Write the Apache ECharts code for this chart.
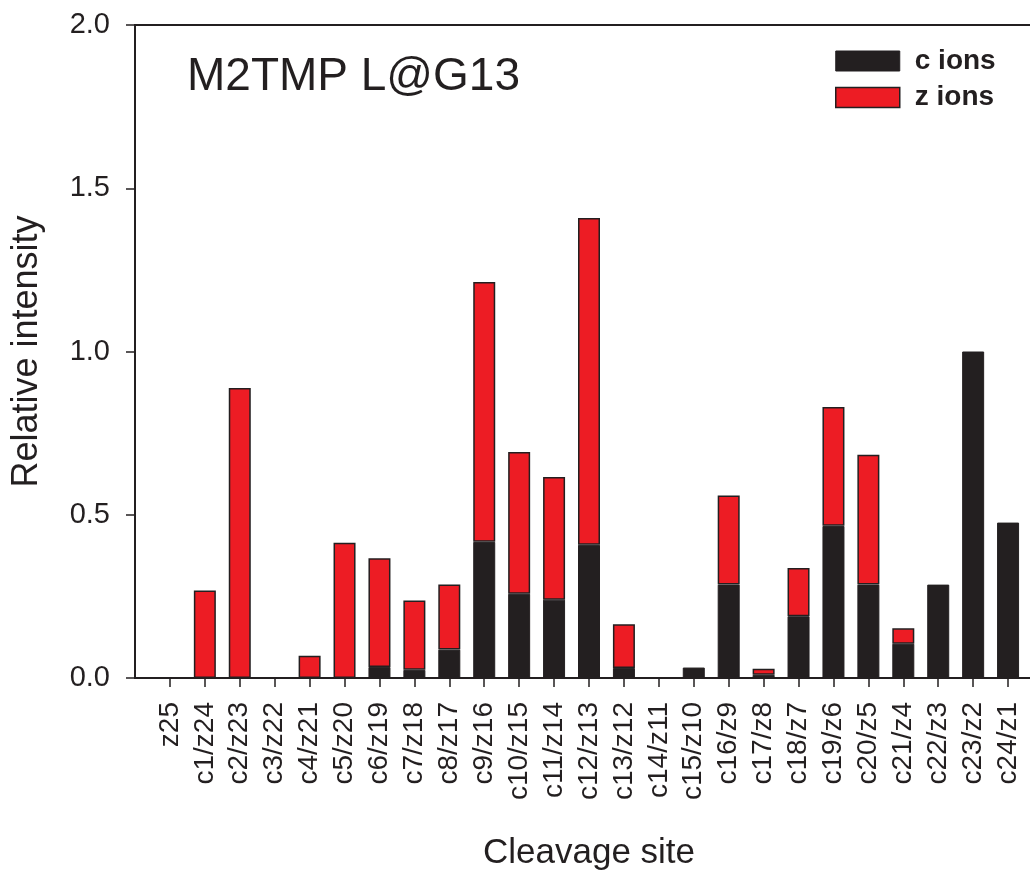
<!DOCTYPE html>
<html>
<head>
<meta charset="utf-8">
<script src="https://cdn.jsdelivr.net/npm/echarts@6/dist/echarts.min.js"></script>
<style>
html,body{margin:0;padding:0;background:#fff;}
#chart{width:1030px;height:874px;}
</style>
</head>
<body>
<div id="chart"></div>
<script>
const categories = ['z25','c1/z24','c2/z23','c3/z22','c4/z21','c5/z20','c6/z19','c7/z18','c8/z17','c9/z16','c10/z15','c11/z14','c12/z13','c13/z12','c14/z11','c15/z10','c16/z9','c17/z8','c18/z7','c19/z6','c20/z5','c21/z4','c22/z3','c23/z2','c24/z1'];
const cIons = [0,0,0,0,0,0,0.034,0.025,0.087,0.417,0.258,0.240,0.408,0.031,0,0.032,0.286,0.010,0.189,0.466,0.286,0.105,0.286,1.000,0.476];
const zIons = [0,0.268,0.888,0,0.068,0.414,0.333,0.212,0.199,0.796,0.434,0.376,1.001,0.134,0,0,0.273,0.018,0.148,0.364,0.398,0.047,0,0,0];
const yTicks = [0,0.5,1.0,1.5,2.0];
const titleText = 'M2TMP L@G13';

// pad one empty slot on each side so the axis spans from the y axis to beyond the right edge
const cats = [''].concat(categories, ['']);
const pad = arr => ['-'].concat(arr.map(v => v === 0 ? '-' : v), ['-']);

const ink = '#231f20';
const font = 'Arial, "Liberation Sans", Helvetica, sans-serif';
const chart = echarts.init(document.getElementById('chart'));
chart.setOption({
  animation: false,
  backgroundColor: '#ffffff',
  textStyle: {fontFamily: font, color: ink},
  title: {
    text: titleText, left: 182, top: 49,
    textStyle: {fontFamily: font, fontSize: 46, fontWeight: 'normal', color: ink}
  },
  legend: {
    orient: 'vertical', left: 835, top: 47, padding: 0,
    itemWidth: 64, itemHeight: 20, itemGap: 8.5,
    icon: 'rect',
    selectedMode: false,
    textStyle: {fontFamily: font, fontSize: 28, fontWeight: 'bold', color: ink, padding: [0,0,0,10]},
    data: [
      {name: 'c ions', itemStyle: {color: ink, borderColor: ink, borderWidth: 1}},
      {name: 'z ions', itemStyle: {color: '#ed1c24', borderColor: ink, borderWidth: 1.5}}
    ]
  },
  grid: {left: 135, top: 25, width: 908, bottom: 196, containLabel: false, outerBoundsMode: 'none',
    show: true, borderColor: ink, borderWidth: 2, backgroundColor: 'transparent'},
  xAxis: {
    type: 'category', data: cats, boundaryGap: false,
    name: 'Cleavage site', nameLocation: 'middle', nameGap: 158,
    nameTextStyle: {fontFamily: font, fontSize: 35, color: ink, verticalAlign: 'top'},
    axisLine: {lineStyle: {color: ink, width: 2}},
    axisTick: {show: true, length: 9, lineStyle: {color: ink, width: 1.5}, interval: (i, v) => v !== ''},
    axisLabel: {interval: 0, rotate: 90, fontSize: 28, color: ink, margin: 24, fontFamily: font},
    splitLine: {show: false}
  },
  yAxis: {
    type: 'value', min: 0, max: 2, interval: 0.5,
    name: 'Relative intensity', nameLocation: 'middle', nameGap: 90,
    nameTextStyle: {fontFamily: font, fontSize: 36, color: ink},
    axisLine: {show: true, lineStyle: {color: ink, width: 2}},
    axisTick: {show: true, length: 9, lineStyle: {color: ink, width: 1.5}},
    axisLabel: {fontSize: 29, color: ink, margin: 25, fontFamily: font,
      formatter: v => yTicks.includes(v) ? v.toFixed(1) : ''},
    splitLine: {show: false}
  },
  series: [
    {name: 'c ions', type: 'bar', stack: 'all', data: pad(cIons), barWidth: 22,
     itemStyle: {color: ink, borderColor: ink, borderWidth: 1}},
    {name: 'z ions', type: 'bar', stack: 'all', data: pad(zIons), barWidth: 22,
     itemStyle: {color: '#ed1c24', borderColor: ink, borderWidth: 1.5}}
  ]
});
</script>
</body>
</html>
